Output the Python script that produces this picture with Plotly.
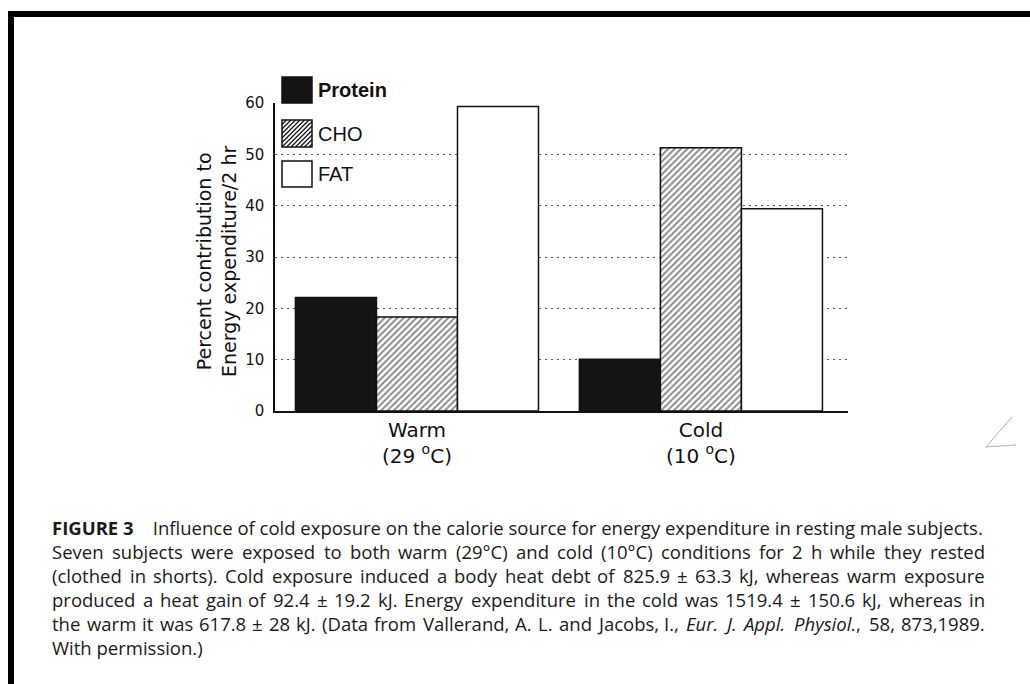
import plotly.graph_objects as go

# ---- data ----
conditions = ["Warm", "Cold"]
condition_labels = ["Warm<br>(29 <sup>o</sup>C)", "Cold<br>(10 <sup>o</sup>C)"]
protein = [22.1, 10.1]
cho = [18.3, 51.3]
fat = [59.3, 39.4]
y_ticks = [0, 10, 20, 30, 40, 50, 60]
legend_names = ["Protein", "CHO", "FAT"]
caption_head = "<b>FIGURE 3</b>    Influence of cold exposure on the calorie source for energy expenditure in resting male subjects."
caption_body = [
    "Seven subjects were exposed to both warm (29°C) and cold (10°C) conditions for 2 h while they rested",
    "(clothed in shorts). Cold exposure induced a body heat debt of 825.9 ± 63.3 kJ, whereas warm exposure",
    "produced a heat gain of 92.4 ± 19.2 kJ. Energy expenditure in the cold was 1519.4 ± 150.6 kJ, whereas in",
    "the warm it was 617.8 ± 28 kJ. (Data from Vallerand, A. L. and Jacobs, I., Eur. J. Appl. Physiol., 58, 873,1989.",
]
caption_last = "With permission.)"
italic_words = ["Eur.", "J.", "Appl.", "Physiol.,"]

W, H = 1030, 684
L, R, T, B = 275, 848, 103, 411


def px(p):
    return (p - L) / (R - L)


def py(p):
    return (B - p) / (B - T)


line_col = "#111111"
fig = go.Figure()
fig.add_trace(go.Bar(x=conditions, y=protein, name=legend_names[0],
                     marker=dict(color="#141414", line=dict(color=line_col, width=1.5))))
fig.add_trace(go.Bar(x=conditions, y=cho, name=legend_names[1],
                     marker=dict(color="white", line=dict(color=line_col, width=1.5),
                                 pattern=dict(shape="/", size=4.5, solidity=0.42,
                                              fgcolor="#111111", bgcolor="white"))))
fig.add_trace(go.Bar(x=conditions, y=fat, name=legend_names[2],
                     marker=dict(color="white", line=dict(color=line_col, width=1.5))))

shapes = []
annotations = []

# legend swatches (drawn manually to match the large boxes)
sw_x0, sw_x1 = 282, 312
boxes = [(77, 103), (120, 147), (161, 187)]
fills = ["#141414", "white", "white"]
for (y0, y1), fc in zip(boxes, fills):
    shapes.append(dict(type="rect", xref="paper", yref="paper",
                       x0=px(sw_x0), x1=px(sw_x1), y0=py(y1), y1=py(y0),
                       fillcolor=fc, line=dict(color=line_col, width=1.5), layer="above"))
hy0, hy1 = boxes[1]
step = 4.5
k = sw_x0 - (hy1 - hy0)
segs = []
while k < sw_x1:
    xa, ya = k, hy1
    xb, yb = k + (hy1 - hy0), hy0
    if xa < sw_x0:
        ya = ya - (sw_x0 - xa); xa = sw_x0
    if xb > sw_x1:
        yb = yb + (xb - sw_x1); xb = sw_x1
    if xb > xa:
        segs.append(f"M{px(xa)},{py(ya)} L{px(xb)},{py(yb)}")
    k += step
shapes.append(dict(type="path", xref="paper", yref="paper", path=" ".join(segs),
                   line=dict(color="#111111", width=1.2), layer="above"))

leg_text_y = [90, 134, 174]
for i, (name, yy) in enumerate(zip(legend_names, leg_text_y)):
    txt = f"<b>{name}</b>" if i == 0 else name
    annotations.append(dict(xref="paper", yref="paper", x=px(316), y=py(yy),
                            xanchor="left", yanchor="middle", showarrow=False, text=txt,
                            font=dict(family="Liberation Sans", size=20, color="#111")))

# y-axis title
annotations.append(dict(xref="paper", yref="paper", x=px(216), y=py(262),
                        xanchor="center", yanchor="middle", showarrow=False, textangle=-90,
                        text="Percent contribution to<br>Energy expenditure/2 hr",
                        font=dict(family="DejaVu Sans", size=19, color="#111")))

# ---- caption (justified body lines, word by word) ----
CAP_FONT = dict(family="Open Sans", size=18.5, color="#1a1a1a")
CAP_X0, CAP_X1 = 52, 985
OS = {" ": .260, "(": .296, ")": .296, ",": .245, ".": .266, "°": .418, "±": .572,
      "A": .635, "C": .628, "D": .722, "E": .556, "F": .516, "I": .292, "J": .285, "L": .525,
      "P": .604, "S": .542, "V": .600, "W": .930,
      "a": .556, "b": .613, "c": .476, "d": .613, "e": .561, "f": .339, "g": .548, "h": .614,
      "i": .253, "j": .253, "k": .525, "l": .253, "m": .930, "n": .614, "o": .604, "p": .613,
      "q": .613, "r": .408, "s": .477, "t": .353, "u": .614, "v": .501, "w": .778, "x": .524,
      "y": .502, "z": .477}


def est_w(s):
    return sum(OS.get(c, .572) for c in s) * CAP_FONT["size"] * 1.012


def fmt(word):
    if word in italic_words:
        if word.endswith(","):
            return f"<i>{word[:-1]}</i>,"
        return f"<i>{word}</i>"
    return word


cap_y = [527, 551, 575, 599, 623, 647]
annotations.append(dict(xref="paper", yref="paper", x=px(CAP_X0), y=py(cap_y[0]),
                        xanchor="left", yanchor="middle", showarrow=False, text=caption_head,
                        font=CAP_FONT, borderpad=0, borderwidth=0))
for line, yy in zip(caption_body, cap_y[1:5]):
    words = line.split(" ")
    ws = [est_w(w) for w in words]
    n = len(words)
    gap = (CAP_X1 - CAP_X0 - sum(ws)) / (n - 1)
    half = n // 2
    for i, w in enumerate(words):
        if i == 0:
            x, anchor = CAP_X0, "left"
        elif i == n - 1:
            x, anchor = CAP_X1, "right"
        elif i < half:
            x = CAP_X0 + sum(ws[:i]) + i * gap + ws[i] / 2
            anchor = "center"
        else:
            x = CAP_X1 - sum(ws[i + 1:]) - (n - 1 - i) * gap - ws[i] / 2
            anchor = "center"
        annotations.append(dict(xref="paper", yref="paper", x=px(x), y=py(yy),
                                xanchor=anchor, yanchor="middle", showarrow=False,
                                text=fmt(w), font=CAP_FONT, borderpad=0, borderwidth=0))
annotations.append(dict(xref="paper", yref="paper", x=px(CAP_X0), y=py(cap_y[5]),
                        xanchor="left", yanchor="middle", showarrow=False, text=caption_last,
                        font=CAP_FONT, borderpad=0, borderwidth=0))

# page border (scan frame)
shapes.append(dict(type="rect", xref="paper", yref="paper", x0=px(8), x1=px(1032),
                   y0=py(17), y1=py(11), fillcolor="black", line=dict(width=0), layer="above"))
shapes.append(dict(type="rect", xref="paper", yref="paper", x0=px(8), x1=px(14),
                   y0=py(686), y1=py(11), fillcolor="black", line=dict(width=0), layer="above"))
# faint pencil mark at right
shapes.append(dict(type="path", xref="paper", yref="paper",
                   path=f"M{px(1012)},{py(417)} L{px(986)},{py(447)} L{px(1016)},{py(445)}",
                   line=dict(color="#b0b0b0", width=1), layer="above"))

fig.update_layout(
    width=W, height=H,
    margin=dict(l=L, r=W - R, t=T, b=H - B, autoexpand=False),
    paper_bgcolor="white", plot_bgcolor="white",
    barmode="group", bargap=0.144, bargroupgap=0,
    showlegend=False,
    shapes=shapes, annotations=annotations,
    font=dict(family="DejaVu Sans", color="#111"),
)
fig.update_xaxes(
    range=[-0.5, 1.518], tickmode="array", tickvals=conditions, ticktext=condition_labels,
    showline=True, linecolor=line_col, linewidth=1.5, ticks="", showgrid=False,
    tickfont=dict(family="DejaVu Sans", size=20, color="#111"), automargin=False,
)
fig.update_yaxes(
    range=[0, 60], tickvals=y_ticks, showline=True, linecolor=line_col, linewidth=1.5,
    ticks="", showgrid=True, gridcolor="#555555", gridwidth=1, griddash="2px,4px",
    zeroline=False, ticklabelstandoff=6,
    tickfont=dict(family="DejaVu Sans", size=15, color="#111"), automargin=False,
)

fig.write_html("out.html")
